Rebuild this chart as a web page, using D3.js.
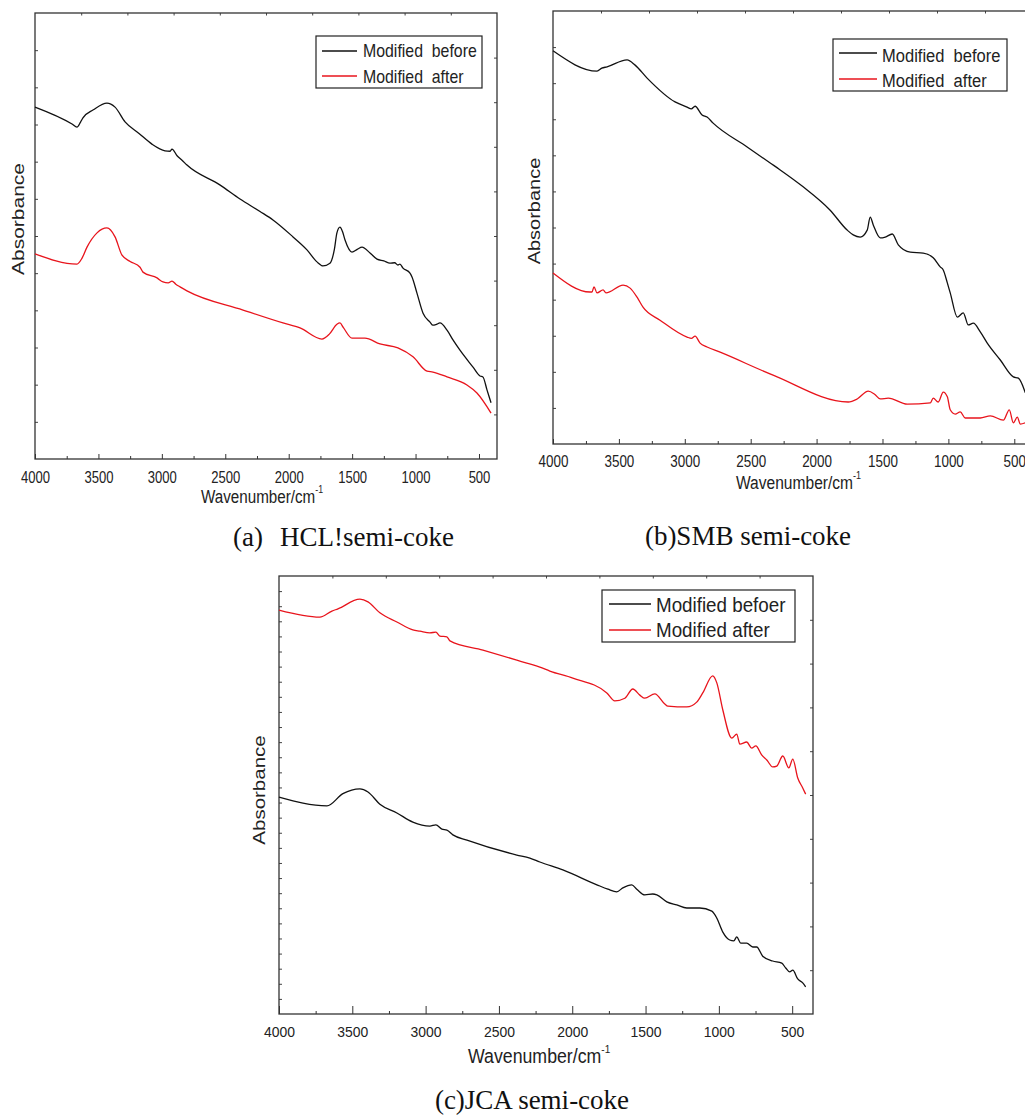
<!DOCTYPE html>
<html>
<head>
<meta charset="utf-8">
<script src="https://cdn.jsdelivr.net/npm/d3@7"></script>
<style>
  body { margin: 0; background: #fff; }
  svg { display: block; }
  .sans { font-family: "Liberation Sans", Arial, sans-serif; fill: #222; }
  .serif { font-family: "Liberation Serif", "Times New Roman", serif; fill: #111; }
</style>
</head>
<body>
<script>
// wavenumber axis (cm-1), same for all three panels
const xDomain = [4000, 358];
const majorTicks = [4000, 3500, 3000, 2500, 2000, 1500, 1000, 500];
const minorTicks = [3750, 3250, 2750, 2250, 1750, 1250, 750];

// (a) HCL semi-coke  [wavenumber, absorbance (arb.)]
const hclBefore = [[4000,7.89],[3708,7.51],[3669,7.44],[3640,7.56],[3622,7.65],[3540,7.83],[3433,7.98],[3369,7.89],
  [3290,7.56],[3180,7.30],[3078,7.06],[2975,6.91],[2935,6.90],[2920,6.95],[2880,6.80],[2841,6.70],[2802,6.59],
  [2540,6.14],[2384,5.83],[2226,5.55],[2124,5.36],[1966,4.98],[1856,4.69],[1777,4.42],[1730,4.33],[1675,4.39],
  [1640,4.70],[1620,5.07],[1596,5.20],[1576,5.10],[1556,4.91],[1501,4.64],[1460,4.70],[1422,4.75],[1359,4.62],
  [1304,4.48],[1250,4.44],[1202,4.39],[1165,4.40],[1139,4.35],[1123,4.37],[1099,4.28],[1044,4.17],[1028,4.08],
  [989,3.72],[941,3.27],[886,3.07],[863,3.00],[835,3.02],[808,3.05],[752,2.89],[705,2.67],[650,2.44],[547,2.06],
  [492,1.86],[469,1.84],[437,1.55],[405,1.26]];
const hclAfter = [[4000,4.60],[3669,4.37],[3630,4.50],[3590,4.75],[3511,5.07],[3433,5.18],[3369,4.98],[3314,4.57],
  [3250,4.43],[3172,4.30],[3149,4.19],[3038,4.06],[2991,3.97],[2950,3.95],[2920,3.99],[2890,3.92],[2857,3.86],
  [2802,3.77],[2360,3.34],[2045,3.05],[1911,2.94],[1738,2.69],[1680,2.80],[1620,3.02],[1596,3.05],[1570,2.95],
  [1501,2.71],[1399,2.71],[1280,2.58],[1139,2.49],[1020,2.29],[910,1.97],[863,1.95],[752,1.84],[595,1.66],
  [516,1.48],[405,1.03]];

// (b) SMB semi-coke
const smbBefore = [[4000,9.08],[3666,8.61],[3630,8.68],[3590,8.71],[3438,8.87],[3377,8.75],[3286,8.45],[3074,7.90],
  [2983,7.78],[2950,7.74],[2922,7.80],[2869,7.60],[2831,7.55],[2785,7.41],[2527,6.86],[2352,6.49],[2276,6.33],
  [2102,5.94],[1897,5.40],[1768,4.94],[1722,4.83],[1669,4.78],[1616,4.94],[1593,5.24],[1570,5.06],[1517,4.76],
  [1479,4.78],[1426,4.85],[1380,4.60],[1289,4.43],[1191,4.41],[1115,4.30],[1062,4.09],[1039,4.02],[1008,3.72],
  [986,3.49],[932,2.93],[887,3.03],[849,2.75],[811,2.79],[758,2.59],[705,2.33],[606,1.94],[507,1.55],[469,1.52],
  [416,1.18]];
const smbAfter = [[4000,3.95],[3719,3.51],[3704,3.51],[3689,3.63],[3666,3.49],[3620,3.56],[3598,3.49],[3468,3.67],
  [3415,3.60],[3362,3.39],[3317,3.16],[3188,2.86],[2983,2.47],[2950,2.44],[2922,2.49],[2884,2.33],[2831,2.24],
  [2732,2.12],[2330,1.59],[1760,0.97],[1692,1.04],[1608,1.22],[1560,1.15],[1517,1.04],[1456,1.06],[1312,0.92],
  [1137,0.95],[1115,1.06],[1077,0.97],[1039,1.20],[1008,1.09],[986,0.79],[948,0.69],[910,0.74],[872,0.60],
  [758,0.60],[682,0.65],[583,0.55],[538,0.79],[507,0.49],[477,0.62],[454,0.46],[416,0.49]];

// (c) JCA semi-coke
const jcaBefore = [[4000,4.95],[3673,4.75],[3564,5.03],[3448,5.14],[3393,5.07],[3312,4.79],[3196,4.59],[3087,4.38],
  [2971,4.29],[2930,4.32],[2889,4.22],[2855,4.20],[2814,4.09],[2718,3.97],[2378,3.63],[2289,3.56],[2221,3.47],
  [2064,3.29],[1832,2.95],[1757,2.85],[1696,2.79],[1655,2.88],[1594,2.95],[1560,2.85],[1505,2.72],[1451,2.74],
  [1423,2.72],[1355,2.56],[1287,2.49],[1219,2.42],[1130,2.42],[1048,2.35],[1014,2.19],[973,1.87],[926,1.69],
  [898,1.67],[878,1.76],[851,1.62],[810,1.62],[769,1.53],[742,1.53],[701,1.32],[633,1.21],[571,1.16],[544,1.05],
  [517,0.96],[496,1.00],[462,0.80],[428,0.71],[408,0.62]];
const jcaAfter = [[4000,9.22],[3721,9.06],[3639,9.20],[3598,9.25],[3448,9.47],[3393,9.41],[3312,9.16],[3196,8.95],
  [3087,8.77],[3039,8.74],[2971,8.70],[2930,8.72],[2903,8.63],[2855,8.61],[2834,8.52],[2609,8.31],[2378,8.08],
  [2310,8.01],[2221,7.92],[2153,7.83],[1996,7.67],[1764,7.33],[1710,7.15],[1641,7.21],[1587,7.42],[1539,7.28],
  [1505,7.21],[1437,7.31],[1369,7.08],[1348,7.03],[1219,7.01],[1151,7.12],[1110,7.33],[1042,7.72],[1014,7.56],
  [973,6.94],[912,6.30],[878,6.39],[857,6.16],[810,6.21],[776,6.07],[748,6.12],[707,5.91],[673,5.80],[633,5.64],
  [605,5.66],[564,5.89],[523,5.62],[496,5.82],[462,5.39],[428,5.16],[408,5.02]];

const legendA = ["Modified  before", "Modified  after"];
const legendC = ["Modified befoer", "Modified after"];
const captions = ["(a)", "HCL!semi-coke", "(b)SMB semi-coke", "(c)JCA semi-coke"];

const panels = [
  { left: 35, right: 497, top: 13, bottom: 459, leftDiv: 12, major: 5,
    tickFs: 16, tickSx: 0.815, tickBase: 24,
    titleX: 201, titleBase: 503, titleFs: 19, titleSx: 0.8,
    absX: 24, absY: 219, absFs: 21,
    leg: { x0: 316, y0: 36, x1: 482, y1: 88, lx0: 322, lx1: 357, ly: [51, 76], tx: 363, tb: [57, 83], fs: 19, sx: 0.835, labels: legendA },
    before: hclBefore, after: hclAfter },
  { left: 553, right: 1033, top: 11, bottom: 444, leftDiv: 12, major: 5,
    tickFs: 16, tickSx: 0.84, tickBase: 23,
    titleX: 736, titleBase: 489, titleFs: 19, titleSx: 0.82,
    absX: 540, absY: 211, absFs: 20,
    leg: { x0: 833, y0: 39, x1: 1007, y1: 91, lx0: 839, lx1: 877, ly: [53, 79], tx: 882, tb: [62, 87], fs: 19, sx: 0.87, labels: legendA },
    before: smbBefore, after: smbAfter },
  { left: 279, right: 813, top: 576, bottom: 1014, leftDiv: 29, major: 8,
    tickFs: 15, tickSx: 0.93, tickBase: 23,
    titleX: 468, titleBase: 1063, titleFs: 19.5, titleSx: 0.91,
    absX: 265, absY: 790, absFs: 20.5,
    leg: { x0: 602, y0: 590, x1: 795, y1: 642, lx0: 609, lx1: 651, ly: [604, 630], tx: 656, tb: [612, 637], fs: 20, sx: 0.94, labels: legendC },
    before: jcaBefore, after: jcaAfter }
];

const svg = d3.select("body").append("svg")
  .attr("width", 1025)
  .attr("height", 1117);

function squashText(g, x, y, str, fs, sx, cls) {
  return g.append("text")
    .attr("class", cls || "sans")
    .attr("transform", "translate(" + x + "," + y + ") scale(" + sx + ",1)")
    .style("font-size", fs + "px")
    .style("white-space", "pre")
    .text(str);
}

function drawPanel(p) {
  let x = d3.scaleLinear().domain(xDomain).range([p.left, p.right]);
  let y = d3.scaleLinear().domain([0, 10]).range([p.bottom, p.top]);
  let g = svg.append("g");

  // bottom axis, major + minor ticks pointing inward
  let bottom = g.append("g")
    .attr("transform", "translate(0," + p.bottom + ")")
    .style("color", "#333")
    .call(d3.axisBottom(x).tickValues(majorTicks).tickSize(-p.major).tickFormat(d3.format("d")));
  bottom.select(".domain").remove();
  bottom.selectAll("text")
    .attr("class", "sans")
    .attr("y", p.tickBase).attr("dy", null)
    .attr("fill", "#222")
    .style("font-size", p.tickFs + "px")
    .attr("transform", "scale(" + p.tickSx + ",1)");

  g.append("g")
    .attr("transform", "translate(0," + p.bottom + ")")
    .style("color", "#333")
    .call(d3.axisBottom(x).tickValues(minorTicks).tickSize(-3).tickFormat(""))
    .call(a => a.select(".domain").remove());

  // top, left, right small ticks
  let topVals = d3.range(1, 10).map(i => xDomain[0] + (xDomain[1] - xDomain[0]) * i / 10);
  g.append("g")
    .attr("transform", "translate(0," + p.top + ")")
    .style("color", "#444")
    .call(d3.axisTop(x).tickValues(topVals).tickSize(-2.5).tickFormat(""))
    .call(a => a.select(".domain").remove());

  g.append("g")
    .attr("transform", "translate(" + p.left + ",0)")
    .style("color", "#444")
    .call(d3.axisLeft(y).tickValues(d3.range(1, p.leftDiv).map(i => 10 * i / p.leftDiv)).tickSize(-3).tickFormat(""))
    .call(a => a.select(".domain").remove());

  g.append("g")
    .attr("transform", "translate(" + p.right + ",0)")
    .style("color", "#444")
    .call(d3.axisRight(y).tickValues(d3.range(1, 10)).tickSize(-3).tickFormat(""))
    .call(a => a.select(".domain").remove());

  // frame
  g.append("rect")
    .attr("x", p.left).attr("y", p.top)
    .attr("width", p.right - p.left).attr("height", p.bottom - p.top)
    .attr("fill", "none").attr("stroke", "#333").attr("stroke-width", 1.3);

  // spectra
  let line = d3.line()
    .x(d => x(d[0]))
    .y(d => y(d[1]))
    .curve(d3.curveMonotoneX);

  g.append("path").datum(p.before)
    .attr("d", line).attr("fill", "none")
    .attr("stroke", "#111").attr("stroke-width", 1.3);
  g.append("path").datum(p.after)
    .attr("d", line).attr("fill", "none")
    .attr("stroke", "#e8141c").attr("stroke-width", 1.3);

  // axis titles
  let t = squashText(g, p.titleX, p.titleBase, "Wavenumber/cm", p.titleFs, p.titleSx);
  t.append("tspan").attr("dy", -10).style("font-size", "11px").text("-1");

  g.append("text")
    .attr("class", "sans")
    .attr("transform", "translate(" + p.absX + "," + p.absY + ") scale(0.8,1) rotate(-90)")
    .attr("text-anchor", "middle")
    .style("font-size", p.absFs + "px")
    .text("Absorbance");

  // legend
  let L = p.leg;
  g.append("rect")
    .attr("x", L.x0).attr("y", L.y0)
    .attr("width", L.x1 - L.x0).attr("height", L.y1 - L.y0)
    .attr("fill", "#fff").attr("stroke", "#222").attr("stroke-width", 1.2);
  ["#111", "#e8141c"].forEach((c, i) => {
    g.append("line")
      .attr("x1", L.lx0).attr("x2", L.lx1)
      .attr("y1", L.ly[i]).attr("y2", L.ly[i])
      .attr("stroke", c).attr("stroke-width", 1.3);
    squashText(g, L.tx, L.tb[i], L.labels[i], L.fs, L.sx);
  });
}

panels.forEach(drawPanel);

// captions under the panels
svg.append("text").attr("class", "serif").attr("x", 233).attr("y", 546).style("font-size", "27px").text(captions[0]);
svg.append("text").attr("class", "serif").attr("x", 280).attr("y", 546).style("font-size", "27px").text(captions[1]);
svg.append("text").attr("class", "serif").attr("x", 748).attr("y", 545).attr("text-anchor", "middle").style("font-size", "27px").text(captions[2]);
svg.append("text").attr("class", "serif").attr("x", 532).attr("y", 1109).attr("text-anchor", "middle").style("font-size", "27px").text(captions[3]);
</script>
</body>
</html>
